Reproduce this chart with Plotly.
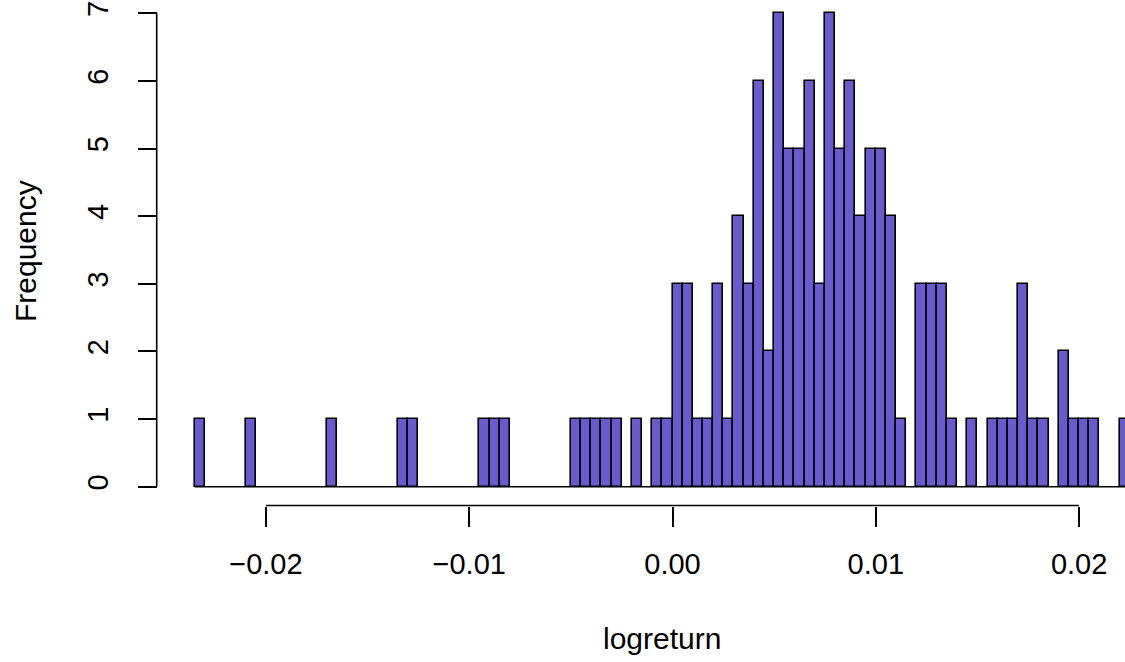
import plotly.graph_objects as go

# Histogram bins (left edges, width 0.0005) with non-zero counts
bin_left = [-0.0235, -0.0210, -0.0170, -0.0135, -0.0130, -0.0095, -0.0090, -0.0085,
            -0.0050, -0.0045, -0.0040, -0.0035, -0.0030, -0.0020, -0.0010, -0.0005,
            0.0000, 0.0005, 0.0010, 0.0015, 0.0020, 0.0025, 0.0030, 0.0035, 0.0040,
            0.0045, 0.0050, 0.0055, 0.0060, 0.0065, 0.0070, 0.0075, 0.0080, 0.0085,
            0.0090, 0.0095, 0.0100, 0.0105, 0.0110,
            0.0120, 0.0125, 0.0130, 0.0135, 0.0145, 0.0155, 0.0160, 0.0165, 0.0170,
            0.0175, 0.0180, 0.0190, 0.0195, 0.0200, 0.0205, 0.0220]
counts = [1, 1, 1, 1, 1, 1, 1, 1,
          1, 1, 1, 1, 1, 1, 1, 1,
          3, 3, 1, 1, 3, 1, 4, 3, 6,
          2, 7, 5, 5, 6, 3, 7, 5, 6,
          4, 5, 5, 4, 1,
          3, 3, 3, 1, 1, 1, 1, 1, 3,
          1, 1, 2, 1, 1, 1, 1]
bin_width = 0.0005

x_tickvals = [-0.02, -0.01, 0.00, 0.01, 0.02]
x_ticktext = ["\u22120.02", "\u22120.01", "0.00", "0.01", "0.02"]
y_tickvals = [0, 1, 2, 3, 4, 5, 6, 7]
y_ticktext = ["0", "1", "2", "3", "4", "5", "6", "7"]

FONT = "Liberation Sans, Arial, Helvetica, sans-serif"
FILL = "#6A5ACD"
LW = 1.6
W, H = 1125, 662
YAX_POS = 156.7 / W
XAX_POS = 1 - 505.5 / H

fig = go.Figure()
fig.add_trace(go.Bar(
    x=bin_left, y=counts, width=bin_width, offset=0,
    marker=dict(color=FILL, line=dict(color="black", width=LW)),
    showlegend=False, hoverinfo="x+y",
))

shapes = [
    # baseline across all bins (R draws empty bins as flat outlines)
    dict(type="line", xref="x", yref="y", x0=bin_left[0], x1=bin_left[-1] + bin_width,
         y0=0, y1=0, line=dict(color="black", width=LW), layer="below"),
    # y axis line from first to last tick
    dict(type="line", xref="paper", yref="y", x0=YAX_POS, x1=YAX_POS,
         y0=y_tickvals[0], y1=y_tickvals[-1], line=dict(color="black", width=LW)),
    # x axis line from first to last tick
    dict(type="line", xref="x", yref="paper", x0=x_tickvals[0], x1=x_tickvals[-1],
         y0=XAX_POS, y1=XAX_POS, line=dict(color="black", width=LW)),
]

fig.update_layout(
    width=W, height=H,
    margin=dict(l=0, r=0, t=0, b=0, pad=0),
    paper_bgcolor="white", plot_bgcolor="white",
    bargap=0,
    font=dict(family=FONT, size=29, color="black"),
    shapes=shapes,
    xaxis=dict(
        range=[-672.5 / 20330, (W - 672.5) / 20330],
        anchor="free", position=XAX_POS, side="bottom",
        showgrid=False, zeroline=False, showline=False,
        ticks="outside", ticklen=20, tickwidth=LW, tickcolor="black",
        tickvals=x_tickvals, ticktext=x_ticktext,
        tickfont=dict(family=FONT, size=29, color="black"),
        ticklabelstandoff=13,
    ),
    yaxis=dict(
        range=[-(H - 486.7) / 67.62, 486.7 / 67.62],
        anchor="free", position=YAX_POS, side="left",
        showgrid=False, zeroline=False, showline=False,
        ticks="outside", ticklen=19, tickwidth=LW, tickcolor="black",
        tickvals=y_tickvals, ticktext=y_ticktext, tickangle=-90,
        tickfont=dict(family=FONT, size=29, color="black"),
        ticklabelstandoff=18,
    ),
    annotations=[
        dict(text="Frequency", xref="paper", yref="paper", x=25 / W, y=1 - 251 / H,
             textangle=-90, showarrow=False, xanchor="center", yanchor="middle",
             font=dict(family=FONT, size=30, color="black")),
        dict(text="logreturn", xref="paper", yref="paper", x=662 / W, y=1 - 638 / H,
             showarrow=False, xanchor="center", yanchor="middle",
             font=dict(family=FONT, size=30, color="black")),
    ],
)

fig.write_html("out.html")
